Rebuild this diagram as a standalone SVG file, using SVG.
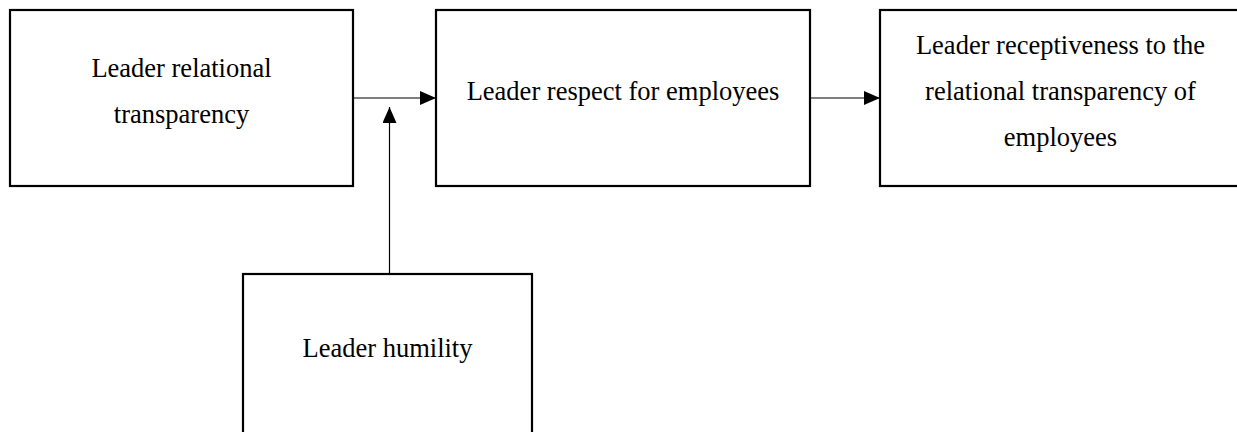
<svg xmlns="http://www.w3.org/2000/svg" width="1237" height="432" viewBox="0 0 1237 432">
<style>
.box{fill:#fff;stroke:#000;stroke-width:2.2}
.t{font-family:"Liberation Serif","Times New Roman",serif;font-size:26.5px;fill:#000;text-anchor:middle}
.c{stroke:#000;stroke-width:1.2;fill:none}
</style>
<defs>
<marker id="ah" markerWidth="16" markerHeight="14" refX="16" refY="7" orient="auto" markerUnits="userSpaceOnUse">
<path d="M0,0 L16,7 L0,14 Z" fill="#000"/>
</marker>
</defs>
<rect width="1237" height="432" fill="#fff"/>
<g id="n1">
<rect class="box" x="10" y="10" width="343" height="176"/>
<text class="t" x="181.5" y="77">Leader relational</text>
<text class="t" x="181.5" y="123">transparency</text>
</g>
<g id="n2">
<rect class="box" x="436" y="10" width="374" height="176"/>
<text class="t" x="623" y="100">Leader respect for employees</text>
</g>
<g id="n3">
<rect class="box" x="880" y="10" width="362" height="176"/>
<text class="t" x="1060.5" y="53.5">Leader receptiveness to the</text>
<text class="t" x="1060.5" y="100">relational transparency of</text>
<text class="t" x="1060.5" y="146">employees</text>
</g>
<g id="n4">
<rect class="box" x="243" y="274" width="289" height="170"/>
<text class="t" x="387.5" y="357">Leader humility</text>
</g>
<g id="connectors">
<line class="c" x1="353" y1="98" x2="436" y2="98" marker-end="url(#ah)"/>
<line class="c" x1="810" y1="98" x2="880" y2="98" marker-end="url(#ah)"/>
<line class="c" x1="389.5" y1="274" x2="389.5" y2="107" marker-end="url(#ah)"/>
</g>
</svg>
